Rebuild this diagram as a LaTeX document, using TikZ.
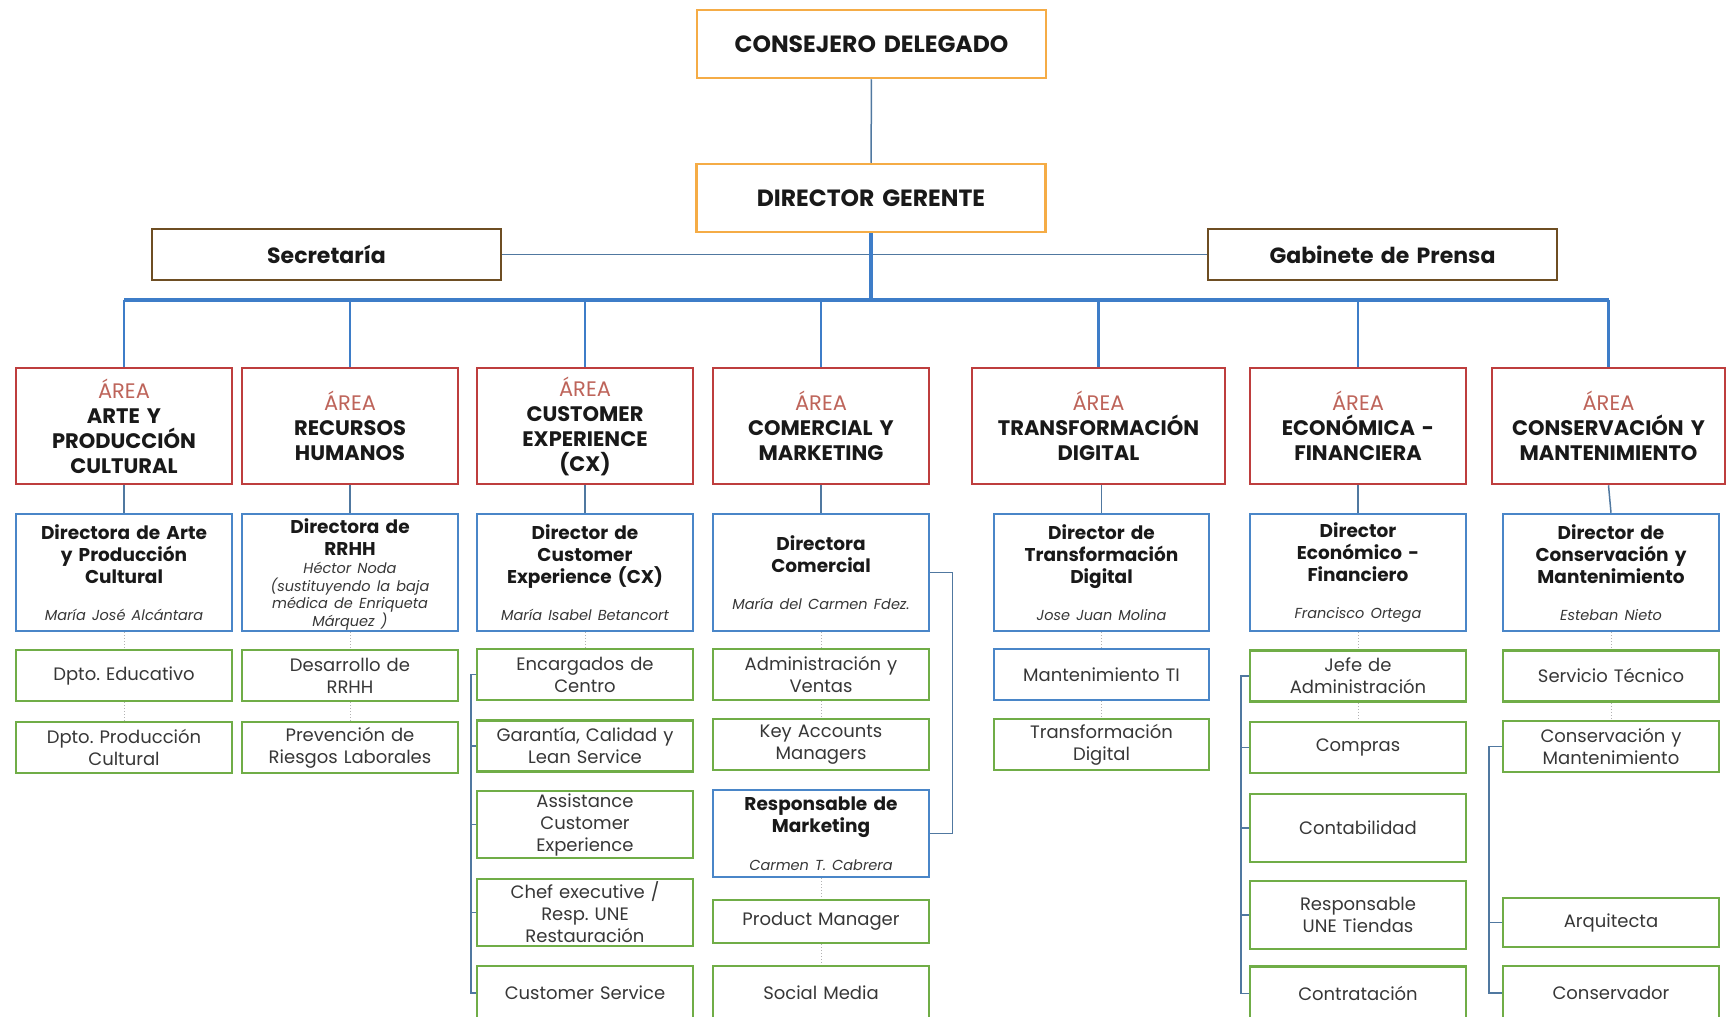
\documentclass[tikz,border=0pt]{standalone}
\usepackage{fontspec}
\setmainfont{Poppins}
\frenchspacing
\lineskiplimit=-30pt

\definecolor{orangeb}{RGB}{245,172,70}
\definecolor{brownb}{RGB}{110,78,35}
\definecolor{redb}{RGB}{190,62,62}
\definecolor{areatxt}{RGB}{190,100,90}
\definecolor{blueb}{RGB}{74,134,200}
\definecolor{greenb}{RGB}{112,173,71}
\definecolor{linkblue}{RGB}{62,125,200}
\definecolor{thinblue}{RGB}{80,120,160}
\definecolor{inkgray}{RGB}{55,55,55}

\newcommand\topfont{\fontsize{23.5}{26}\selectfont\bfseries}
\newcommand\sidefont{\fontsize{22}{26}\selectfont\bfseries}
\newcommand\areafont{\fontsize{21}{25}\selectfont\bfseries}
\newcommand\dirfont{\fontsize{18.5}{22}\selectfont\bfseries}
\newcommand\namefont{\fontsize{14.5}{17.5}\selectfont\mdseries\itshape\color{inkgray}}
\newcommand\unitfont{\fontsize{18}{22}\selectfont}

\tikzset{
  box/.style={draw, rectangle, fill=white, line width=2.5pt, inner sep=0pt, align=center,
    text width=208, minimum width=216, text=black!90},
  topbox/.style={box, draw=orangeb, minimum width=349, minimum height=68, text width=340, font=\topfont},
  sidebox/.style={box, draw=brownb, minimum width=349, minimum height=51, text width=340, font=\sidefont},
  areabox/.style={box, draw=redb, minimum height=116, font=\areafont},
  dirbox/.style={box, draw=blueb, minimum height=117, font=\dirfont},
  unitbox/.style={box, draw=greenb, minimum height=51, font=\unitfont, text=inkgray},
  busline/.style={linkblue, line width=3.5pt},
  dropline/.style={linkblue, line width=2.5pt},
  linkline/.style={thinblue, line width=1.5pt},
  dotline/.style={black!30, line width=1pt, dotted},
}

\begin{document}
\begin{tikzpicture}[x=1pt, y=-1pt]
  \useasboundingbox (0,0) rectangle (1727,1017);
  \clip (0,0) rectangle (1727,1017);

  \node[topbox] (cd) at (871.5,44) {CONSEJERO DELEGADO};
  \node[topbox] (dg) at (871,198) {DIRECTOR GERENTE};
  \node[sidebox] (secr) at (326.5,254.5) {Secretaría};
  \node[sidebox] (gab) at (1382.5,254.5) {Gabinete de Prensa};

  \node[areabox] (a1) at (124,426) {{\color{areatxt}\mdseries ÁREA}\\ARTE Y\\PRODUCCIÓN\\CULTURAL};
  \node[areabox] (a2) at (350,426) {{\color{areatxt}\mdseries ÁREA}\\RECURSOS\\HUMANOS};
  \node[areabox] (a3) at (585,426) {{\color{areatxt}\mdseries ÁREA}\\CUSTOMER\\EXPERIENCE\\(CX)};
  \node[areabox] (a4) at (821,426) {{\color{areatxt}\mdseries ÁREA}\\COMERCIAL Y\\MARKETING};
  \node[areabox, minimum width=253, text width=245] (a5) at (1098.5,426) {{\color{areatxt}\mdseries ÁREA}\\TRANSFORMACIÓN\\DIGITAL};
  \node[areabox] (a6) at (1358,426) {{\color{areatxt}\mdseries ÁREA}\\ECONÓMICA -\\FINANCIERA};
  \node[areabox, minimum width=233, text width=228] (a7) at (1608.5,426) {{\color{areatxt}\mdseries ÁREA}\\CONSERVACIÓN Y\\MANTENIMIENTO};

  \node[dirbox] (d1) at (124,572.5) {Directora de Arte\\y Producción\\Cultural\par\vspace{20pt}\namefont María José Alcántara\par};
  \node[dirbox] (d2) at (350,572.5) {Directora de\\RRHH\par\vspace{1pt}\namefont Héctor Noda\\(sustituyendo la baja\\médica de Enriqueta\\Márquez )\par\vspace{-3pt}};
  \node[dirbox] (d3) at (585,572.5) {Director de\\Customer\\Experience (CX)\par\vspace{20pt}\namefont María Isabel Betancort\par};
  \node[dirbox] (d4) at (821,572.5) {Directora\\Comercial\par\vspace{20pt}\namefont María del Carmen Fdez.\par};
  \node[dirbox, minimum width=215] (d5) at (1101.5,572.5) {Director de\\Transformación\\Digital\par\vspace{20pt}\namefont Jose Juan Molina\par};
  \node[dirbox] (d6) at (1358,572.5) {Director\\Económico -\\Financiero\par\vspace{20pt}\namefont Francisco Ortega\par};
  \node[dirbox] (d7) at (1611,572.5) {Director de\\Conservación y\\Mantenimiento\par\vspace{20pt}\namefont Esteban Nieto\par};

  \node[unitbox] (g11) at (124,675.5) {Dpto. Educativo};
  \node[unitbox] (g12) at (124,747.5) {Dpto. Producción\\Cultural};

  \node[unitbox] (g21) at (350,675.5) {Desarrollo de\\RRHH};
  \node[unitbox] (g22) at (350,747.5) {Prevención de\\Riesgos Laborales};

  \node[unitbox] (g31) at (585,674.5) {Encargados de\\Centro};
  \node[unitbox] (g32) at (585,746) {Garantía, Calidad y\\Lean Service};
  \node[unitbox, minimum height=67] (g33) at (585,824.5) {Assistance\\Customer\\Experience};
  \node[unitbox, minimum height=67] (g34) at (585,912.5) {Chef executive /\\Resp. UNE\\Restauración};
  \node[unitbox, minimum height=54] (g35) at (585,993) {Customer Service};

  \node[unitbox] (g41) at (821,674.5) {Administración y\\Ventas};
  \node[unitbox] (g42) at (821,744.5) {Key Accounts\\Managers};
  \node[dirbox, minimum height=87] (r43) at (821,833.5) {Responsable de\\Marketing\par\vspace{20pt}\namefont Carmen T. Cabrera\par};
  \node[unitbox, minimum height=43] (g44) at (821,921.5) {Product Manager};
  \node[unitbox, minimum height=54] (g45) at (821,993) {Social Media};

  \node[unitbox, draw=blueb, minimum width=215] (b51) at (1101.5,674.5) {Mantenimiento TI};
  \node[unitbox, minimum width=215] (g52) at (1101.5,744.5) {Transformación\\Digital};

  \node[unitbox] (g61) at (1358,676) {Jefe de\\Administración};
  \node[unitbox] (g62) at (1358,747.5) {Compras};
  \node[unitbox, minimum height=68] (g63) at (1358,828) {Contabilidad};
  \node[unitbox, minimum height=68] (g64) at (1358,915) {Responsable\\UNE Tiendas};
  \node[unitbox, minimum height=54] (g65) at (1358,993.5) {Contratación};

  \node[unitbox] (g71) at (1611,676) {Servicio Técnico};
  \node[unitbox] (g72) at (1611,746.5) {Conservación y\\Mantenimiento};
  \node[unitbox, minimum height=49] (g73) at (1611,922.5) {Arquitecta};
  \node[unitbox, minimum height=54] (g74) at (1611,993) {Conservador};

  \coordinate (bus) at (871,300);

  \draw[linkline] (cd) -- (dg);
  \draw[linkline] (secr) -- (gab);
  \draw[busline] (dg.south) -- (bus);
  \draw[busline] (a1.north |- bus) -- (a7.north |- bus);
  \draw[dropline] (a1.north |- bus) -- (a1.north);
  \draw[dropline] (a2.north |- bus) -- (a2.north);
  \draw[dropline] (a3.north |- bus) -- (a3.north);
  \draw[dropline] (a4.north |- bus) -- (a4.north);
  \draw[dropline] (a5.north |- bus) -- (a5.north);
  \draw[dropline] (a6.north |- bus) -- (a6.north);
  \draw[dropline] (a7.north |- bus) -- (a7.north);

  \draw[linkline] (a1.south) -- (d1.north);
  \draw[linkline] (a2.south) -- (d2.north);
  \draw[linkline] (a3.south) -- (d3.north);
  \draw[linkline] (a4.south) -- (d4.north);
  \draw[linkline] (d5.north |- a5.south) -- (d5.north);
  \draw[linkline] (a6.south) -- (d6.north);
  \draw[linkline] (a7.south) -- (d7.north);

  \draw[dotline] (d1.south) -- (g11.north);
  \draw[dotline] (g11.south) -- (g12.north);
  \draw[dotline] (d2.south) -- (g21.north);
  \draw[dotline] (g21.south) -- (g22.north);
  \draw[dotline] (d3.south) -- (g31.north);
  \draw[dotline] (d4.south) -- (g41.north);
  \draw[dotline] (g41.south) -- (g42.north);
  \draw[dotline] (r43.south) -- (g44.north);
  \draw[dotline] (g44.south) -- (g45.north);
  \draw[dotline] (d5.south) -- (b51.north);
  \draw[dotline] (b51.south) -- (g52.north);
  \draw[dotline] (d6.south) -- (g61.north);
  \draw[dotline] (g61.south) -- (g62.north);
  \draw[dotline] (d7.south) -- (g71.north);
  \draw[dotline] (g71.south) -- (g72.north);

  \draw[linkline] (g31.west) -- ++(-5,0) |- (g35.west);
  \draw[linkline] (g32.west) -- ++(-5,0);
  \draw[linkline] (g33.west) -- ++(-5,0);
  \draw[linkline] (g34.west) -- ++(-5,0);

  \draw[linkline] (d4.east) -- ++(22,0) |- (r43.east);

  \draw[linkline] (g61.west) -- ++(-8,0) |- (g65.west);
  \draw[linkline] (g62.west) -- ++(-8,0);
  \draw[linkline] (g63.west) -- ++(-8,0);
  \draw[linkline] (g64.west) -- ++(-8,0);

  \draw[linkline] (g72.west) -- ++(-13,0) |- (g74.west);
  \draw[linkline] (g73.west) -- ++(-13,0);
\end{tikzpicture}
\end{document}
